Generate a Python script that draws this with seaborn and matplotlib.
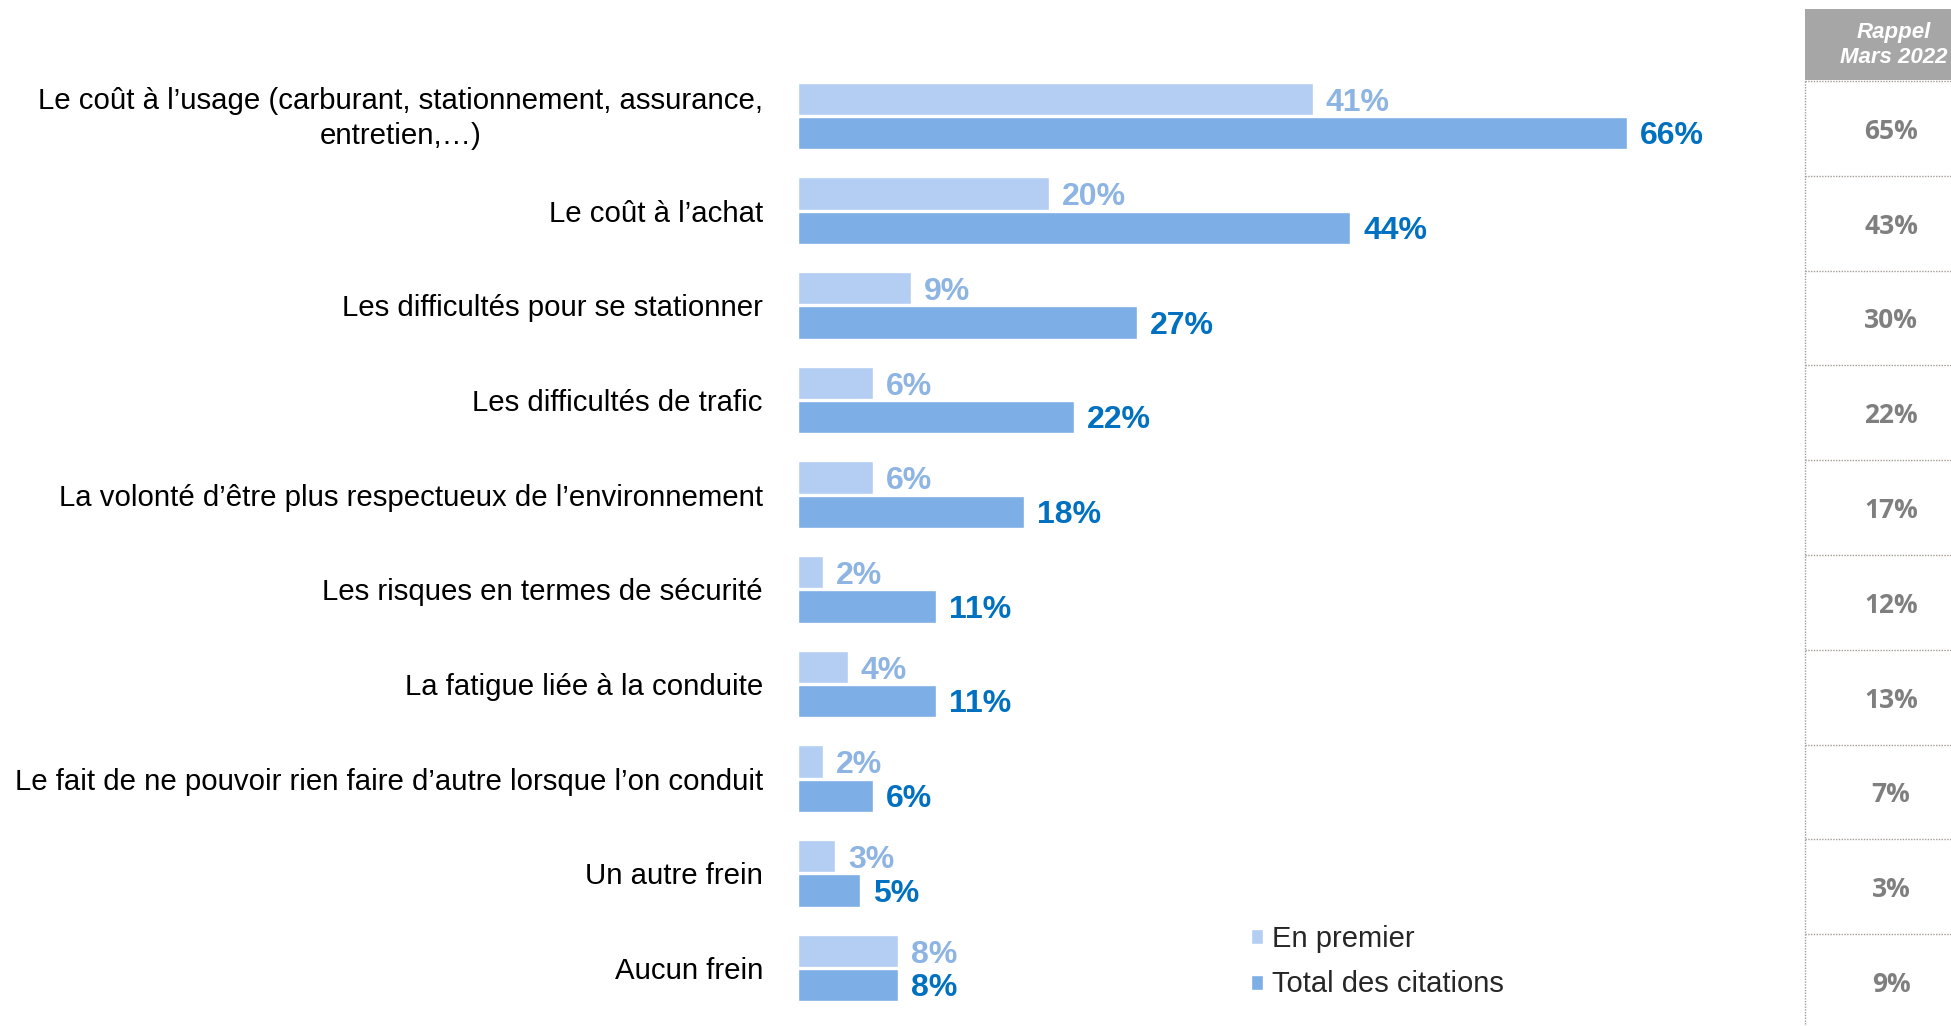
import pandas as pd
import numpy as np
import matplotlib
matplotlib.use('Agg')
import matplotlib.pyplot as plt
import seaborn as sns
from matplotlib.patches import Rectangle
from matplotlib.transforms import ScaledTranslation

# Données du graphique
categories = [
    "Le coût à l’usage (carburant, stationnement, assurance,\nentretien,…)",
    "Le coût à l’achat",
    "Les difficultés pour se stationner",
    "Les difficultés de trafic",
    "La volonté d’être plus respectueux de l’environnement",
    "Les risques en termes de sécurité",
    "La fatigue liée à la conduite",
    "Le fait de ne pouvoir rien faire d’autre lorsque l’on conduit",
    "Un autre frein",
    "Aucun frein",
]
en_premier = [41, 20, 9, 6, 6, 2, 4, 2, 3, 8]
total_citations = [66, 44, 27, 22, 18, 11, 11, 6, 5, 8]
rappel_2022 = [65, 43, 30, 22, 17, 12, 13, 7, 3, 9]
series = ["En premier", "Total des citations"]
header_text = "Rappel\nMars 2022"

# Couleurs
light_bar = '#B3CEF2'
dark_bar = '#7DAEE5'
light_txt = '#8DB4E2'
dark_txt = '#0070C0'
grey_txt = '#7F7F7F'

sns.set_theme(style='white')
plt.rcParams['font.family'] = ['Liberation Sans', 'DejaVu Sans']

W, H = 1951, 1026
fig = plt.figure(figsize=(W / 100, H / 100), dpi=100)

df = pd.DataFrame({
    'categorie': categories * 2,
    'valeur': en_premier + total_citations,
    'serie': [series[0]] * len(categories) + [series[1]] * len(categories),
})

# Axe principal (barres)
x0, px_per_pct = 797.6, 12.56
top, bottom = 68.7, 1015.3
ax = fig.add_axes([x0 / W, 1 - bottom / H, 1000 / W, (bottom - top) / H])
sns.barplot(data=df, y='categorie', x='valeur', hue='serie', orient='h',
            palette=[light_bar, dark_bar], width=0.72, gap=0.05,
            saturation=1, ax=ax)
ax.set_xlim(0, 1000 / px_per_pct)
ax.set_ylim(len(categories) - 0.5, -0.5)
ax.set_xlabel('')
ax.set_ylabel('')
ax.set_xticks([])
sns.despine(ax=ax, left=True, bottom=True)
ax.tick_params(axis='y', length=0, pad=25, labelsize=21.2, labelcolor='black')
for lab in ax.get_yticklabels():
    lab.set_multialignment('center')
    lab.set_linespacing(1.3)
    if '\n' in lab.get_text():
        # remonter un peu le libellé sur deux lignes
        lab.set_transform(lab.get_transform() + ScaledTranslation(0, 4 / 100, fig.dpi_scale_trans))

# Étiquettes de valeurs
off = 13 / px_per_pct
for i in range(len(categories)):
    ax.text(en_premier[i] + off, i - 0.14, f"{en_premier[i]}%", color=light_txt,
            fontsize=23, fontweight='bold', va='center', ha='left')
    ax.text(total_citations[i] + off, i + 0.215, f"{total_citations[i]}%", color=dark_txt,
            fontsize=23, fontweight='bold', va='center', ha='left')

# Légende
handles, labels = ax.get_legend_handles_labels()
ax.legend(handles, labels, loc='upper left', bbox_to_anchor=(1251 / W, 1 - 925 / H),
          bbox_transform=fig.transFigure, frameon=False, fontsize=21,
          handlelength=0.42, handleheight=0.42, handletextpad=0.3,
          labelspacing=0.6, borderpad=0, borderaxespad=0)

# Colonne de rappel (Mars 2022)
r_top, r_bottom = 81, 81 + 94.8 * 10
ax2 = fig.add_axes([1805 / W, 1 - r_bottom / H, 146 / W, (r_bottom - r_top) / H])
ax2.set_xlim(0, 146)
ax2.set_ylim(len(categories) - 0.5, -0.5)
ax2.axis('off')
dot_color = '#A39C97'
for k in range(len(categories) + 1):
    ax2.plot([0, 146], [k - 0.5, k - 0.5], color=dot_color, lw=1,
             linestyle=(0, (1, 1)), clip_on=False)
ax2.plot([0, 0], [-0.5, len(categories) - 0.5], color=dot_color, lw=1,
         linestyle=(0, (1, 1)), clip_on=False)
for i, v in enumerate(rappel_2022):
    ax2.text(86, i + 0.03, f"{v}%", color=grey_txt, fontsize=19, fontweight='bold',
             ha='center', va='center', family=['Open Sans', 'DejaVu Sans'])

# En-tête grise
fig.patches.append(Rectangle((1805 / W, 1 - 80 / H), 146 / W, 71 / H,
                             transform=fig.transFigure, facecolor='#A6A6A6',
                             edgecolor='none'))
fig.text(1894 / W, 1 - 45 / H, header_text, color='white', fontsize=16,
         fontweight='bold', style='italic', ha='center', va='center',
         multialignment='center', linespacing=1.25)

fig.savefig('out.png', dpi=100)
